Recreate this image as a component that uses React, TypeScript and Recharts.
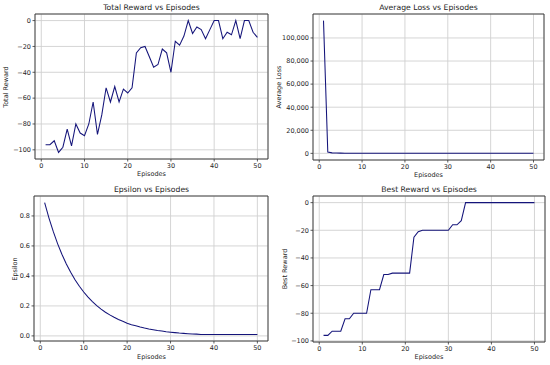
import React from 'react';
import { LineChart, Line, XAxis, YAxis, CartesianGrid, ReferenceArea } from 'recharts';

const episodes = [1,2,3,4,5,6,7,8,9,10,11,12,13,14,15,16,17,18,19,20,21,22,23,24,25,26,27,28,29,30,31,32,33,34,35,36,37,38,39,40,41,42,43,44,45,46,47,48,49,50];

const totalReward = [-96,-96,-93,-102,-98,-84,-97,-80,-87,-89,-80,-63,-88,-73,-52,-63,-51,-63,-53,-56,-52,-25,-21,-20,-28,-36,-34,-22,-25,-40,-16,-19,-12,0,-10,-5,-7,-14,-7,0,0,-14,-9,-11,0,-14,0,0,-9,-13];

const averageLoss = [115000,1100,420,260,190,150,130,115,100,92,85,80,76,72,68,65,62,60,58,56,54,52,50,49,48,47,46,45,44,43,42,41,40,40,39,38,38,37,36,36,35,35,34,34,33,33,32,32,31,31];

const epsilon = [0.889,0.786,0.695,0.614,0.543,0.48,0.424,0.375,0.331,0.293,0.259,0.229,0.202,0.179,0.158,0.14,0.124,0.109,0.097,0.085,0.075,0.067,0.059,0.052,0.046,0.041,0.036,0.032,0.028,0.025,0.022,0.019,0.017,0.015,0.013,0.012,0.01,0.01,0.01,0.01,0.01,0.01,0.01,0.01,0.01,0.01,0.01,0.01,0.01,0.01];

const bestReward = [-96,-96,-93,-93,-93,-84,-84,-80,-80,-80,-80,-63,-63,-63,-52,-52,-51,-51,-51,-51,-51,-25,-21,-20,-20,-20,-20,-20,-20,-20,-16,-16,-13,0,0,0,0,0,0,0,0,0,0,0,0,0,0,0,0,0];

const xTicks = [0,10,20,30,40,50];
const rewardTicks = [-100,-80,-60,-40,-20,0];
const lossTicks = [0,20000,40000,60000,80000,100000];
const epsTicks = [0,0.2,0.4,0.6,0.8];

const FONT = 'DejaVu Sans, sans-serif';
const TEXT = '#262626';
const LINE = '#14147a';
const XDOMAIN: [number, number] = [-1.45, 52.45];

const minus = (s: string) => s.replace('-', '\u2212');

type PanelProps = {
  left: number; top: number; values: number[];
  yDomain: [number, number]; yTicks: number[];
  yWidth: number; marginTop: number; marginRight: number; xHeight: number;
  fmt: (v: number) => string;
};

function Panel(p: PanelProps) {
  const data = episodes.map((e, i) => ({ ep: e, v: p.values[i] }));
  return (
    <div style={{ position: 'absolute', left: p.left, top: p.top }}>
      <LineChart width={275} height={182} data={data}
        margin={{ top: p.marginTop, right: p.marginRight, left: 0, bottom: 0 }}>
        <CartesianGrid stroke="#d0d0d0" strokeWidth={0.9} fill="none" />
        <XAxis dataKey="ep" type="number" domain={XDOMAIN} ticks={xTicks} allowDataOverflow
          height={p.xHeight} axisLine={false} tickSize={2.5} tickMargin={2}
          tickLine={{ stroke: '#333', strokeWidth: 0.8 }}
          tick={{ fontSize: 6.5, fill: TEXT, fontFamily: FONT }} interval={0} />
        <YAxis type="number" domain={p.yDomain} ticks={p.yTicks} allowDataOverflow
          width={p.yWidth} axisLine={false} tickSize={2.5} tickMargin={1.5}
          tickLine={{ stroke: '#333', strokeWidth: 0.8 }}
          tick={{ fontSize: 6.5, fill: TEXT, fontFamily: FONT }} interval={0}
          tickFormatter={p.fmt} />
        <Line dataKey="v" type="linear" stroke={LINE} strokeWidth={1.05} dot={false}
          isAnimationActive={false} />
        <ReferenceArea x1={XDOMAIN[0]} x2={XDOMAIN[1]} y1={p.yDomain[0]} y2={p.yDomain[1]}
          fill="none" fillOpacity={0} stroke="#333" strokeWidth={0.9} strokeOpacity={1} />
      </LineChart>
    </div>
  );
}

function Txt({ x, y, size, children, rotate }: { x: number; y: number; size: number; children: React.ReactNode; rotate?: boolean }) {
  return (
    <div style={{
      position: 'absolute', left: x, top: y, transform: `translate(-50%, -50%)${rotate ? ' rotate(-90deg)' : ''}`,
      fontFamily: FONT, fontSize: size, color: TEXT, whiteSpace: 'nowrap', lineHeight: 1,
    }}>{children}</div>
  );
}

export default function App() {
  return (
    <div style={{ position: 'absolute', left: 0, top: 0, width: 550, height: 365, background: '#fff', overflow: 'hidden' }}>
      <Panel left={0} top={0} values={totalReward} yDomain={[-107.1, 5.1]} yTicks={rewardTicks}
        yWidth={35} marginTop={14} marginRight={7} xHeight={23} fmt={(v) => minus(String(v))} />
      <Panel left={275} top={0} values={averageLoss} yDomain={[-5750, 120750]} yTicks={lossTicks}
        yWidth={38} marginTop={14} marginRight={6} xHeight={22} fmt={(v) => v.toLocaleString('en-US')} />
      <Panel left={0} top={182} values={epsilon} yDomain={[-0.034, 0.933]} yTicks={epsTicks}
        yWidth={34} marginTop={14} marginRight={7} xHeight={23} fmt={(v) => v.toFixed(1)} />
      <Panel left={275} top={182} values={bestReward} yDomain={[-100.8, 4.8]} yTicks={rewardTicks}
        yWidth={38} marginTop={14} marginRight={5} xHeight={22} fmt={(v) => minus(String(v))} />

      <Txt x={151.5} y={7.5} size={7.7}>Total Reward vs Episodes</Txt>
      <Txt x={428.5} y={7.5} size={7.7}>Average Loss vs Episodes</Txt>
      <Txt x={151.5} y={189.5} size={7.7}>Epsilon vs Episodes</Txt>
      <Txt x={429} y={189.5} size={7.7}>Best Reward vs Episodes</Txt>

      <Txt x={151.5} y={174} size={6.5}>Episodes</Txt>
      <Txt x={428.5} y={174.5} size={6.5}>Episodes</Txt>
      <Txt x={151.5} y={356.5} size={6.5}>Episodes</Txt>
      <Txt x={429} y={357} size={6.5}>Episodes</Txt>

      <Txt x={6} y={86.5} size={6.5} rotate>Total Reward</Txt>
      <Txt x={279} y={87} size={6.5} rotate>Average Loss</Txt>
      <Txt x={15} y={268.5} size={6.5} rotate>Epsilon</Txt>
      <Txt x={285} y={269} size={6.5} rotate>Best Reward</Txt>
    </div>
  );
}
